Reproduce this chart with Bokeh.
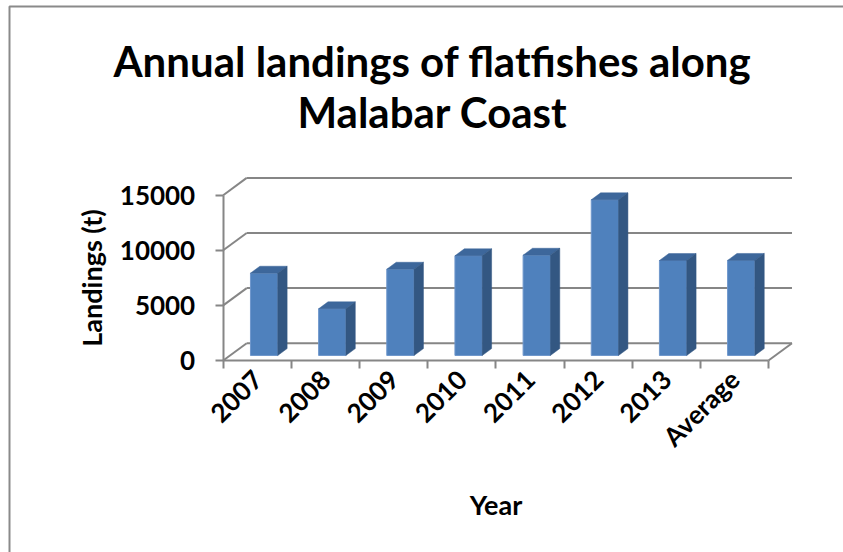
import math
import numpy as np
from bokeh.plotting import figure
from bokeh.models import (Range1d, LinearAxis, FixedTicker, Label)
from bokeh.embed import file_html
from bokeh.resources import INLINE

# ---- data -------------------------------------------------------------
categories = ["2007", "2008", "2009", "2010", "2011", "2012", "2013", "Average"]
landings = [7470, 4240, 7830, 9050, 9100, 14130, 8620, 8630]
y_ticks = [0, 5000, 10000, 15000]

title_lines = ["Annual landings of flatfishes along", "Malabar Coast"]
y_title = "Landings (t)"
x_title = "Year"

# ---- page geometry (pixels) --------------------------------------------
W, H = 843, 552
ORIGIN_PX = (222.7, 360.0)      # where category 0 / value 0 sits on the canvas
PX_PER_CAT = 68.16
PX_PER_UNIT = 0.01102           # pixels per tonne

x_start = -ORIGIN_PX[0] / PX_PER_CAT
x_end = x_start + W / PX_PER_CAT
y_end = ORIGIN_PX[1] / PX_PER_UNIT
y_start = y_end - H / PX_PER_UNIT

def px_x(px):
    return (px - ORIGIN_PX[0]) / PX_PER_CAT

def px_y(py):
    return (ORIGIN_PX[1] - py) / PX_PER_UNIT

# oblique depth of the 3-D box, in data units
DX = 23.5 / PX_PER_CAT
DY = 17.3 / PX_PER_UNIT
n = len(categories)

GRID = "#868686"
FRONT = "#4f81bd"
TOP = "#3d679b"
SIDE = "#335782"
FONT = "Lato"
LABEL_SIZE = "26px"

p = figure(width=W, height=H, output_backend="svg", toolbar_location=None,
           title=None, x_axis_location=None, y_axis_location=None,
           x_range=Range1d(x_start, x_end), y_range=Range1d(y_start, y_end),
           min_border=0)
p.xgrid.visible = False
p.ygrid.visible = False
p.outline_line_color = None
p.background_fill_color = "white"
p.border_fill_color = "white"

# chart area border
p.line([px_x(9), px_x(9), px_x(W + 10)], [px_y(H + 10), px_y(6), px_y(6)],
       line_color="#8a8a8a", line_width=2)

# back wall gridlines and left wall diagonals
for v in y_ticks:
    p.line([DX, n + DX], [v + DY, v + DY], line_color=GRID, line_width=2)
    p.line([0, DX], [v, v + DY], line_color=GRID, line_width=2)
# right edge of the floor
p.line([n, n + DX], [0, DY], line_color=GRID, line_width=2)

# ---- 3-D columns --------------------------------------------------------
vals = np.array(landings, dtype=float)
idx = np.arange(n)
d0, d1 = 0.29, 0.69                 # front / back depth of each column
ax, by = d0 * DX, d0 * DY
wx, wy = (d1 - d0) * DX, (d1 - d0) * DY
xl = idx + 0.30 + ax
xr = idx + 0.70 + ax

p.quad(left=xl, right=xr, bottom=by, top=vals + by,
       fill_color=FRONT, line_color="#6f97cc", line_width=1)
p.patches(xs=[[a, b, b + wx, a + wx] for a, b in zip(xl, xr)],
          ys=[[v + by, v + by, v + by + wy, v + by + wy] for v in vals],
          fill_color=TOP, line_color=TOP, line_width=0.5)
p.patches(xs=[[b, b + wx, b + wx, b] for b in xr],
          ys=[[by, by + wy, v + by + wy, v + by] for v in vals],
          fill_color=SIDE, line_color=SIDE, line_width=0.5)

# ---- axes ---------------------------------------------------------------
yaxis = LinearAxis(fixed_location=0, bounds=(0, 15000),
                   ticker=FixedTicker(ticks=y_ticks, minor_ticks=[]))
yaxis.axis_line_color = GRID
yaxis.axis_line_width = 2
yaxis.major_tick_line_color = GRID
yaxis.major_tick_line_width = 2
yaxis.major_tick_out = 8
yaxis.major_tick_in = 0
yaxis.minor_tick_out = 0
yaxis.minor_tick_in = 0
yaxis.major_label_standoff = 20
yaxis.major_label_text_font = FONT
yaxis.major_label_text_font_style = "bold"
yaxis.major_label_text_font_size = LABEL_SIZE
yaxis.major_label_text_color = "black"
yaxis.axis_label = y_title
yaxis.axis_label_text_font = FONT
yaxis.axis_label_text_font_style = "bold"
yaxis.axis_label_text_font_size = "27px"
yaxis.axis_label_text_color = "black"
yaxis.axis_label_standoff = 9
p.add_layout(yaxis, "left")

centers = [i + 0.5 for i in range(n)]
xaxis = LinearAxis(fixed_location=0, bounds=(0, n),
                   ticker=FixedTicker(ticks=centers, minor_ticks=list(range(n + 1))))
xaxis.major_label_overrides = {c: lab for c, lab in zip(centers, categories)}
xaxis.axis_line_color = GRID
xaxis.axis_line_width = 2
xaxis.major_tick_out = 0
xaxis.major_tick_in = 0
xaxis.minor_tick_line_color = GRID
xaxis.minor_tick_line_width = 2
xaxis.minor_tick_out = 8
xaxis.minor_tick_in = 0
xaxis.major_label_orientation = math.pi / 4
xaxis.major_label_standoff = 6
xaxis.major_label_text_font = FONT
xaxis.major_label_text_font_style = "bold"
xaxis.major_label_text_font_size = LABEL_SIZE
xaxis.major_label_text_color = "black"
xaxis.axis_label = x_title
xaxis.axis_label_text_font = FONT
xaxis.axis_label_text_font_style = "bold"
xaxis.axis_label_text_font_size = "27px"
xaxis.axis_label_text_color = "black"
xaxis.axis_label_standoff = 21
p.add_layout(xaxis, "below")

# ---- title --------------------------------------------------------------
for line, base in zip(title_lines, [60, 111]):
    p.add_layout(Label(x=px_x(432), y=px_y(base), text=line,
                       text_align="center", text_baseline="alphabetic",
                       text_font=FONT, text_font_style="bold",
                       text_font_size="42px", text_color="black"))

open("out.html", "w").write(file_html(p, INLINE))
